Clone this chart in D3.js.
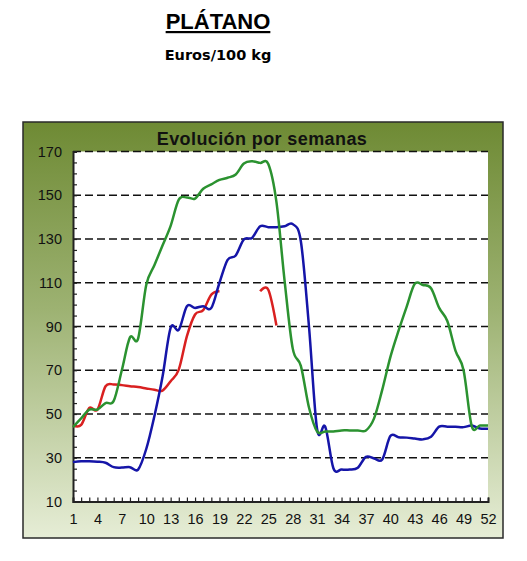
<!DOCTYPE html>
<html>
<head>
<meta charset="utf-8">
<script src="https://cdn.jsdelivr.net/npm/d3@7"></script>
<style>
body { margin: 0; background: #fff; }
svg text { font-family: "Liberation Sans", Arial, sans-serif; }
</style>
</head>
<body>
<div id="chart"></div>
<script>
// semanas 1..52
var weeks = d3.range(1, 53);

var verde = [44, 48, 52, 52, 55, 56, 70, 85, 84.5, 109, 118, 127, 136, 148, 149, 148.5, 153, 155, 157, 158, 159.5, 164.5, 165.5, 164.8, 164.3,
    147, 111, 80, 72, 53, 42, 42, 42, 42.5, 42.5, 42.5, 42.5, 48, 61, 76, 88, 99, 109.5, 109, 107.5, 98.5, 92.5, 79, 70, 44.5, 44.7, 44.7];

var azul = [28, 28.4, 28.4, 28.2, 27.7, 25.7, 25.5, 25.7, 24.6, 34, 49, 67, 89.4, 88.5, 99.3, 98.5, 99.3, 98.5, 110, 120.5, 122.5, 129.8, 130.5, 135.8, 135.4,
    135.4, 135.8, 136.8, 129, 90, 43, 44.2, 25.2, 24.6, 24.6, 25.4, 30.4, 29.7, 29.2, 39.9, 39.4, 39.2, 38.8, 38.4, 39.6, 44.2, 44.2, 44.2, 44, 44.7, 43.4, 43.3];

// null = sin dato
var rojo = [44.8, 45, 52.8, 52, 62.7, 63.5, 63.2, 62.7, 62.3, 61.7, 61.1, 60.7, 65, 70.3, 85.6, 95.5, 97.5, 104.6, 106.1,
    null, null, null, null, 106.1, 106.8, 90.5];

var yTicks = [10, 30, 50, 70, 90, 110, 130, 150, 170];

var width = 527,
    height = 561;

var svg = d3.select("#chart").append("svg")
    .attr("width", width)
    .attr("height", height);

var defs = svg.append("defs");
var grad = defs.append("linearGradient")
    .attr("id", "fondo")
    .attr("x1", 0).attr("y1", 0).attr("x2", 0).attr("y2", 1);
grad.append("stop").attr("offset", "0%").attr("stop-color", "#6e8a34");
grad.append("stop").attr("offset", "45%").attr("stop-color", "#9db272");
grad.append("stop").attr("offset", "100%").attr("stop-color", "#e6edd6");

// titulos
svg.append("text")
    .attr("x", 218).attr("y", 29)
    .attr("text-anchor", "middle")
    .style("font-size", "22px").style("font-weight", "bold")
    .style("text-decoration", "underline")
    .text("PLÁTANO");

svg.append("text")
    .attr("x", 218).attr("y", 60)
    .attr("text-anchor", "middle")
    .style("font-family", "'DejaVu Sans', Verdana, sans-serif")
    .style("font-size", "14.5px").style("font-weight", "bold")
    .text("Euros/100 kg");

// marco
svg.append("rect")
    .attr("x", 23).attr("y", 122)
    .attr("width", 480).attr("height", 416)
    .attr("fill", "url(#fondo)")
    .attr("stroke", "#2a2a2a")
    .attr("stroke-width", 1.5);

svg.append("text")
    .attr("x", 262).attr("y", 145)
    .attr("text-anchor", "middle")
    .style("font-size", "18px").style("font-weight", "bold")
    .style("letter-spacing", "0.4px")
    .attr("fill", "#111")
    .text("Evolución por semanas");

var x = d3.scaleLinear().domain([1, 52]).range([73, 488]);
var y = d3.scaleLinear().domain([10, 170]).range([501.5, 151.5]);

svg.append("rect")
    .attr("x", x(1)).attr("y", y(170))
    .attr("width", x(52) - x(1)).attr("height", y(10) - y(170))
    .attr("fill", "#fff");

// lineas de division
svg.append("g").selectAll("line")
    .data(yTicks.filter(function(d) { return d > 10; }))
    .enter().append("line")
    .attr("x1", x(1)).attr("x2", x(52))
    .attr("y1", function(d) { return y(d); })
    .attr("y2", function(d) { return y(d); })
    .attr("stroke", "#111")
    .attr("stroke-width", 1.5)
    .attr("stroke-dasharray", "8,4");

// ejes
var yAxis = svg.append("g")
    .attr("transform", "translate(" + x(1) + ",0)")
    .call(d3.axisLeft(y).tickValues(d3.range(10, 171, 5)).tickSize(-4).tickPadding(11)
        .tickFormat(function(d) { return yTicks.indexOf(d) >= 0 ? d : ""; }));

var xAxis = svg.append("g")
    .attr("transform", "translate(0," + y(10) + ")")
    .call(d3.axisBottom(x).tickValues(weeks).tickSize(-4).tickPadding(12)
        .tickFormat(function(d) { return (d - 1) % 3 === 0 ? d : ""; }));

[yAxis, xAxis].forEach(function(ax) {
    ax.select(".domain").attr("stroke", "#222").attr("stroke-width", 2);
    ax.selectAll(".tick line").attr("stroke", "#222").attr("stroke-width", 1.2);
    ax.selectAll("text")
        .style("font-family", "'Liberation Sans', Arial, sans-serif")
        .style("font-size", "14.5px")
        .attr("fill", "#111");
});

// series
var line = d3.line()
    .defined(function(d) { return d[1] != null; })
    .curve(d3.curveCatmullRom.alpha(0))
    .x(function(d) { return x(d[0]); })
    .y(function(d) { return y(d[1]); });

var series = [
    { values: rojo, color: "#d92020" },
    { values: azul, color: "#1515a8" },
    { values: verde, color: "#2b9230" }
];

svg.append("g").selectAll("path")
    .data(series)
    .enter().append("path")
    .attr("fill", "none")
    .attr("stroke", function(d) { return d.color; })
    .attr("stroke-width", 2.5)
    .attr("stroke-linejoin", "round")
    .attr("d", function(d) {
        return line(d.values.map(function(v, i) { return [weeks[i], v]; }));
    });
</script>
</body>
</html>
